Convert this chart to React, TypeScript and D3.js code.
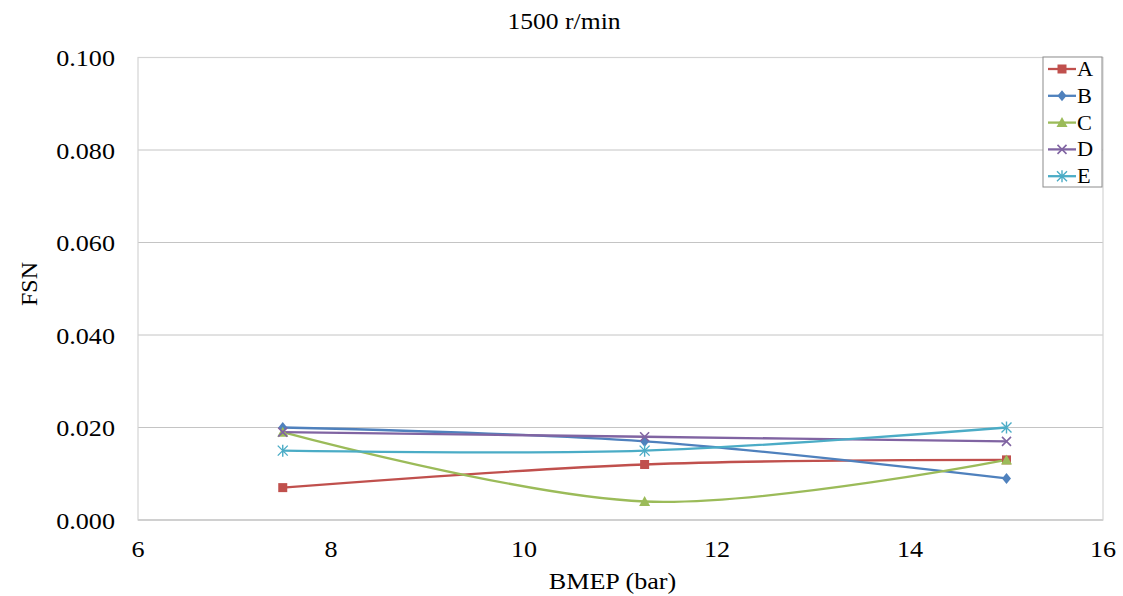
import React from "react";
import * as d3 from "d3";

const xValues = [7.5, 11.25, 15];
const seriesNames = ["A", "B", "C", "D", "E"];
const seriesA = [0.007, 0.012, 0.013];
const seriesB = [0.020, 0.017, 0.009];
const seriesC = [0.019, 0.004, 0.013];
const seriesD = [0.019, 0.018, 0.017];
const seriesE = [0.015, 0.015, 0.020];
const seriesColors = ["#C0504D", "#4F81BD", "#9BBB59", "#8064A2", "#4BACC6"];
const xTicks = [6, 8, 10, 12, 14, 16];
const yTicks = [0, 0.02, 0.04, 0.06, 0.08, 0.1];

const W = 1123;
const H = 596;
const M = { left: 138, right: 1103, top: 57.5, bottom: 520 };
const FONT = "'Liberation Serif', 'Times New Roman', serif";
const SX = 1.09;

function Marker({ kind, color, x, y }: { kind: string; color: string; x: number; y: number }) {
  if (kind === "A") {
    return <rect x={x - 4.5} y={y - 4.5} width={9} height={9} fill={color} />;
  }
  if (kind === "B") {
    return <path d={`M${x},${y - 5.5}L${x + 4.5},${y}L${x},${y + 5.5}L${x - 4.5},${y}Z`} fill={color} />;
  }
  if (kind === "C") {
    return <path d={`M${x},${y - 5.5}L${x + 5.5},${y + 4.5}L${x - 5.5},${y + 4.5}Z`} fill={color} />;
  }
  if (kind === "D") {
    const r = 4.5;
    return (
      <path
        d={`M${x - r},${y - r}L${x + r},${y + r}M${x - r},${y + r}L${x + r},${y - r}`}
        stroke={color}
        strokeWidth={1.6}
        fill="none"
      />
    );
  }
  const r = 5;
  return (
    <path
      d={`M${x - r},${y - r}L${x + r},${y + r}M${x - r},${y + r}L${x + r},${y - r}M${x},${y - r - 1}L${x},${y + r + 1}`}
      stroke={color}
      strokeWidth={1.4}
      fill="none"
    />
  );
}

function SText({ x, y, size, anchor, children }: any) {
  return (
    <text
      transform={`translate(${x},${y}) scale(${SX},1)`}
      fontSize={size}
      fontFamily={FONT}
      textAnchor={anchor}
      fill="#000"
    >
      {children}
    </text>
  );
}

export default function App() {
  const x = d3.scaleLinear().domain([6, 16]).range([M.left, M.right]);
  const y = d3.scaleLinear().domain([0, 0.1]).range([M.bottom, M.top]);
  const allSeries = [seriesA, seriesB, seriesC, seriesD, seriesE];
  const line = d3
    .line<number>()
    .x((_, i) => x(xValues[i]))
    .y((d) => y(d))
    .curve(d3.curveCardinal.tension(0));

  return (
    <svg
      width={W}
      height={H}
      style={{ position: "absolute", left: 0, top: 0, background: "#fff" }}
    >
      <rect x={0} y={0} width={W} height={H} fill="#fff" />
      {yTicks.map((t) => (
        <line key={t} x1={M.left} x2={M.right} y1={y(t)} y2={y(t)} stroke="#c4c4c4" strokeWidth={1} />
      ))}
      <rect
        x={M.left}
        y={M.top}
        width={M.right - M.left}
        height={M.bottom - M.top}
        fill="none"
        stroke="#d4d4d4"
        strokeWidth={1.2}
      />
      <line x1={M.left} x2={M.right} y1={M.bottom} y2={M.bottom} stroke="#d0d0d0" strokeWidth={2} />
      {allSeries.map((s, i) => (
        <path key={i} d={line(s) || ""} fill="none" stroke={seriesColors[i]} strokeWidth={2.3} />
      ))}
      {allSeries.map((s, i) =>
        s.map((v, j) => (
          <Marker key={`${i}-${j}`} kind={seriesNames[i]} color={seriesColors[i]} x={x(xValues[j])} y={y(v)} />
        ))
      )}
      {yTicks.map((t) => (
        <SText key={t} x={115} y={y(t) + 8.5} size={24} anchor="end">
          {d3.format(".3f")(t)}
        </SText>
      ))}
      {xTicks.map((t) => (
        <SText key={t} x={x(t)} y={557} size={24} anchor="middle">
          {t}
        </SText>
      ))}
      <SText x={564} y={29} size={23.5} anchor="middle">
        1500 r/min
      </SText>
      <SText x={612.5} y={589} size={24} anchor="middle">
        BMEP (bar)
      </SText>
      <text
        transform={`translate(36.5,284) rotate(-90)`}
        fontSize={24}
        fontFamily={FONT}
        textAnchor="middle"
        fill="#000"
      >
        FSN
      </text>
      <rect x={1043} y={57} width={59} height={130} fill="#fff" stroke="#8c8c8c" strokeWidth={1} />
      {seriesNames.map((n, i) => {
        const ly = 69 + i * 26.8;
        return (
          <g key={n}>
            <line x1={1048} x2={1076} y1={ly} y2={ly} stroke={seriesColors[i]} strokeWidth={2.3} />
            <Marker kind={n} color={seriesColors[i]} x={1062} y={ly} />
            <SText x={1077} y={ly + 7} size={20.5} anchor="start">
              {n}
            </SText>
          </g>
        );
      })}
    </svg>
  );
}
